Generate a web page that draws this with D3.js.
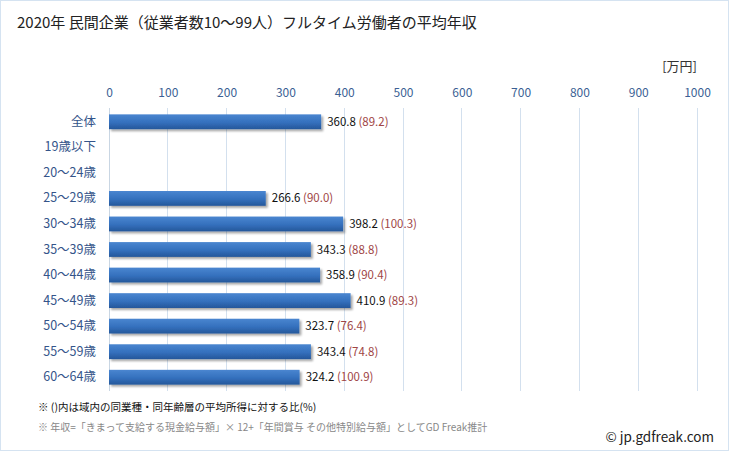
<!DOCTYPE html>
<html><head><meta charset="utf-8">
<script src="https://cdn.jsdelivr.net/npm/d3@7"></script>
<style>
body{margin:0;background:#fff;}
svg{display:block;font-family:"Noto Sans CJK JP","Noto Sans",sans-serif;}
</style></head><body>
<svg id="c" width="729" height="451"></svg>
<script>
const categories = ["全体","19歳以下","20〜24歳","25〜29歳","30〜34歳","35〜39歳","40〜44歳","45〜49歳","50〜54歳","55〜59歳","60〜64歳"];
const values = [360.8, null, null, 266.6, 398.2, 343.3, 358.9, 410.9, 323.7, 343.4, 324.2];
const ratios = [89.2, null, null, 90.0, 100.3, 88.8, 90.4, 89.3, 76.4, 74.8, 100.9];
const ticks = [0,100,200,300,400,500,600,700,800,900,1000];

const svg = d3.select("#c");
const W = 729, H = 451;
svg.append("rect").attr("x",0.5).attr("y",0.5).attr("width",W-1).attr("height",H-1)
  .attr("fill","#fff").attr("stroke","#d5e3f1").attr("stroke-width",1);

const defs = svg.append("defs");
const g1 = defs.append("linearGradient").attr("id","bg").attr("x1",0).attr("y1",0).attr("x2",0).attr("y2",1);
g1.append("stop").attr("offset","0%").attr("stop-color","#4a86d0");
g1.append("stop").attr("offset","55%").attr("stop-color","#3470bd");
g1.append("stop").attr("offset","100%").attr("stop-color","#25579a");
const f = defs.append("filter").attr("id","sh").attr("x","-5%").attr("y","-30%").attr("width","115%").attr("height","180%");
f.append("feGaussianBlur").attr("in","SourceAlpha").attr("stdDeviation",1.2).attr("result","b");
f.append("feOffset").attr("in","b").attr("dx",2).attr("dy",2).attr("result","o");
f.append("feComponentTransfer").attr("in","o").attr("result","o2").append("feFuncA").attr("type","linear").attr("slope",0.35);
const m = f.append("feMerge"); m.append("feMergeNode").attr("in","o2"); m.append("feMergeNode").attr("in","SourceGraphic");

const x = d3.scaleLinear().domain([0,1000]).range([109,697]);
const y = d3.scaleBand().domain(categories).range([109,390]).paddingInner(0.42).paddingOuter(0.21);

svg.append("text").attr("x",17).attr("y",28).attr("font-size",15).attr("fill","#222")
  .text("2020年 民間企業（従業者数10〜99人）フルタイム労働者の平均年収");
svg.append("text").attr("x",697).attr("y",71).attr("text-anchor","end").attr("font-size",13).attr("fill","#333").text("[万円]");

// gridlines
svg.append("g").selectAll("line").data(ticks).join("line")
  .attr("x1",d=>x(d)).attr("x2",d=>x(d)).attr("y1",108).attr("y2",391)
  .attr("stroke",d=>d===0?"#c9d6e3":"#d3e0ee").attr("stroke-width",1).attr("shape-rendering","crispEdges");

// top axis labels
const ax = svg.append("g").attr("transform","translate(0,97)")
  .call(d3.axisTop(x).tickValues(ticks).tickFormat(d3.format("d")).tickSize(0).tickPadding(0));
ax.select(".domain").remove();
ax.selectAll("text").attr("font-size",12).attr("fill","#3b5f94").attr("font-family","'Noto Sans CJK JP',sans-serif");

// left axis labels
const ay = svg.append("g").attr("transform","translate(96,0)")
  .call(d3.axisLeft(y).tickSize(0).tickPadding(0));
ay.select(".domain").remove();
ay.selectAll("text").attr("font-size",12.5).attr("fill","#34548a").attr("font-family","'Noto Sans CJK JP',sans-serif");

const data = categories.map((c,i)=>({c,v:values[i],r:ratios[i]}));
svg.append("g").selectAll("rect").data(data.filter(d=>d.v!=null)).join("rect")
  .attr("x",x(0)).attr("y",d=>y(d.c)).attr("width",d=>x(d.v)-x(0)).attr("height",y.bandwidth())
  .attr("fill","url(#bg)").attr("filter","url(#sh)");

const lab = svg.append("g").selectAll("text").data(data.filter(d=>d.v!=null)).join("text")
  .attr("x",d=>x(d.v)+6).attr("y",d=>y(d.c)+y.bandwidth()/2+4).attr("font-size",11.5);
lab.append("tspan").attr("fill","#111").text(d=>d.v.toFixed(1));
lab.append("tspan").attr("fill","#a04545").text(d=>" ("+d.r.toFixed(1)+")");

svg.append("text").attr("x",38).attr("y",411).attr("font-size",10.5).attr("fill","#111")
  .text("※ ()内は域内の同業種・同年齢層の平均所得に対する比(%)");
svg.append("text").attr("x",38).attr("y",431).attr("font-size",10).attr("fill","#888")
  .text("※ 年収=「きまって支給する現金給与額」× 12+「年間賞与 その他特別給与額」としてGD Freak推計");
svg.append("text").attr("x",714).attr("y",442).attr("text-anchor","end").attr("font-size",13.5).attr("fill","#222")
  .text("© jp.gdfreak.com");
</script>
</body></html>
